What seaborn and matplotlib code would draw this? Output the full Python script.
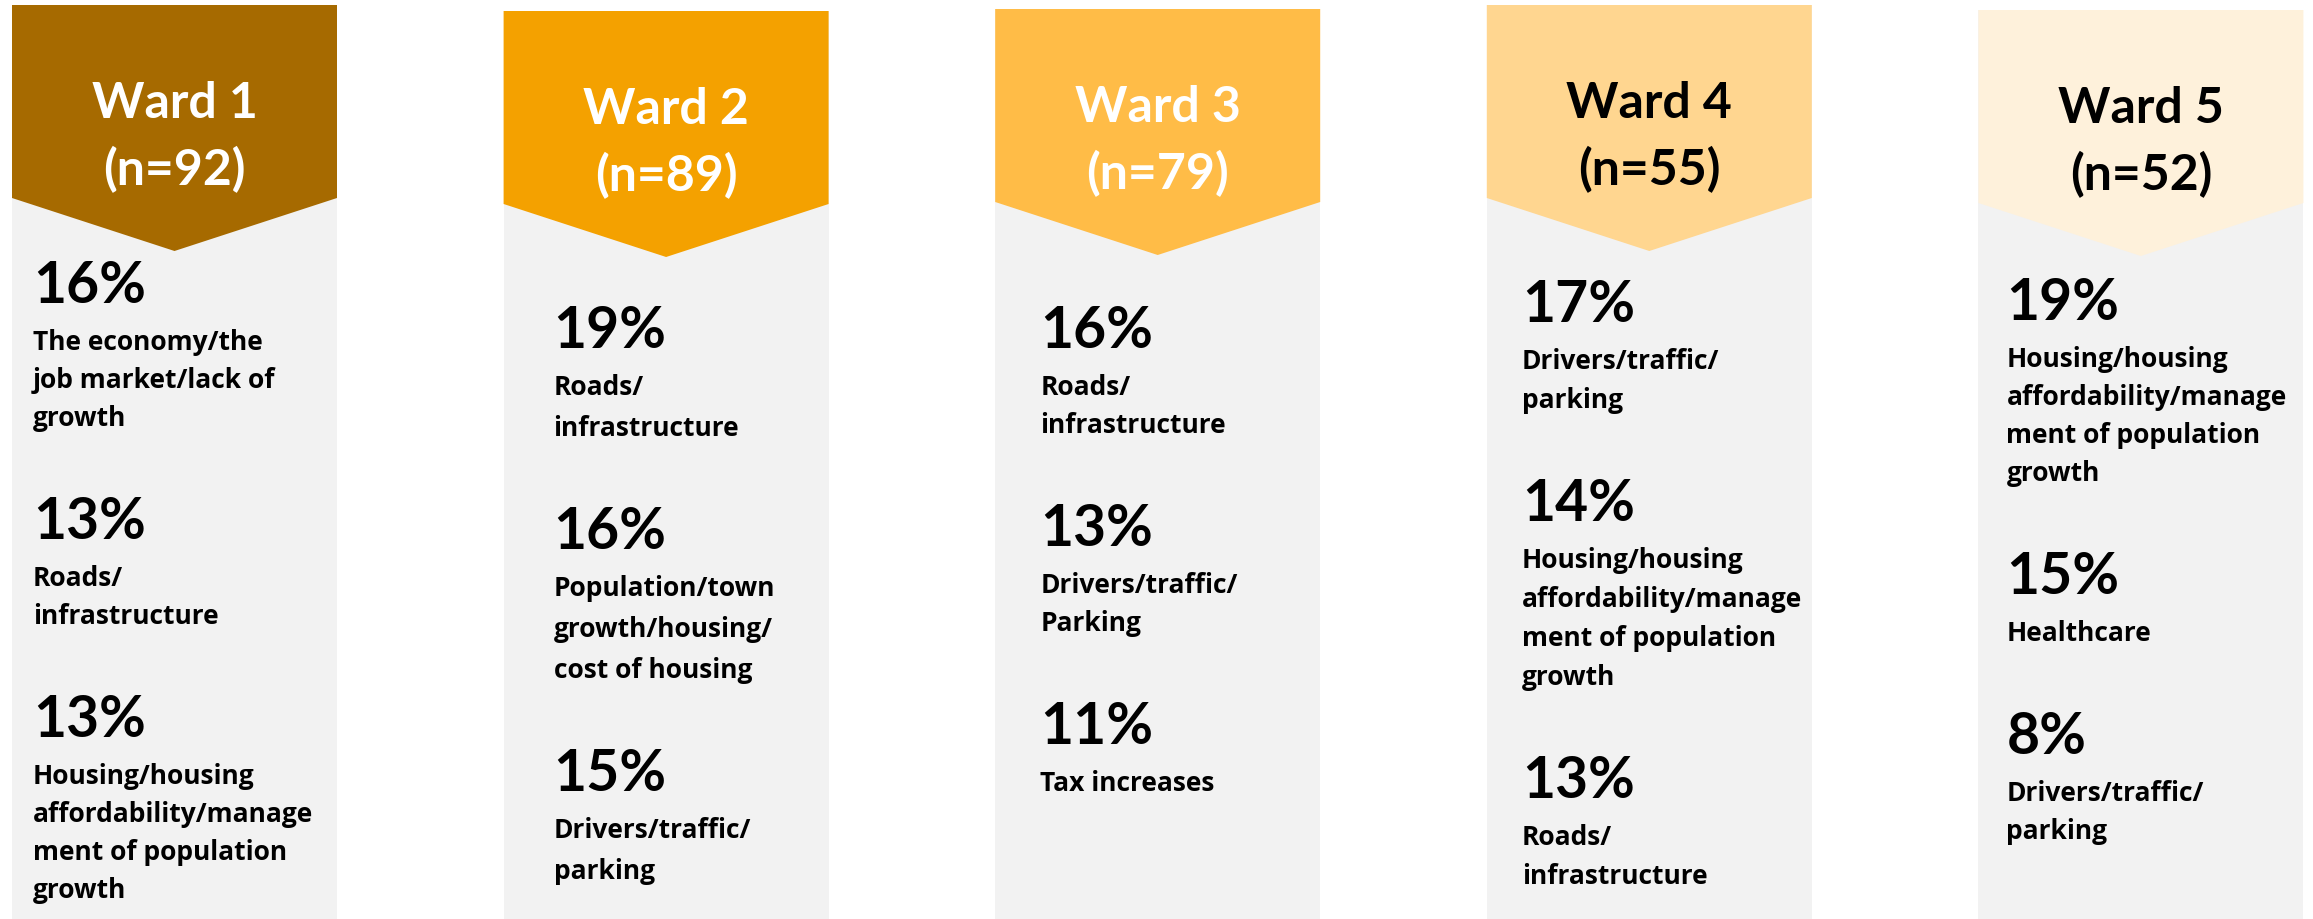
import matplotlib.pyplot as plt
from matplotlib.patches import Polygon
import seaborn as sns

# data
wards = ["Ward 1", "Ward 2", "Ward 3", "Ward 4", "Ward 5"]
sample_sizes = [92, 89, 79, 55, 52]

ward1_pct = [16, 13, 13]
ward1_issues = ["The economy/the\njob market/lack of\ngrowth",
                "Roads/\ninfrastructure",
                "Housing/housing\naffordability/manage\nment of population\ngrowth"]
ward2_pct = [19, 16, 15]
ward2_issues = ["Roads/\ninfrastructure",
                "Population/town\ngrowth/housing/\ncost of housing",
                "Drivers/traffic/\nparking"]
ward3_pct = [16, 13, 11]
ward3_issues = ["Roads/\ninfrastructure",
                "Drivers/traffic/\nParking",
                "Tax increases"]
ward4_pct = [17, 14, 13]
ward4_issues = ["Drivers/traffic/\nparking",
                "Housing/housing\naffordability/manage\nment of population\ngrowth",
                "Roads/\ninfrastructure"]
ward5_pct = [19, 15, 8]
ward5_issues = ["Housing/housing\naffordability/manage\nment of population\ngrowth",
                "Healthcare",
                "Drivers/traffic/\nparking"]

all_pct = [ward1_pct, ward2_pct, ward3_pct, ward4_pct, ward5_pct]
all_issues = [ward1_issues, ward2_issues, ward3_issues, ward4_issues, ward5_issues]

# styling / layout (pixels)
header_colors = ["#A66A00", "#F4A100", "#FFBC47", "#FFD690", "#FEF1DB"]
title_colors = ["white", "white", "white", "black", "black"]
panel_color = "#F2F2F2"
FIG_W, FIG_H = 2313, 920
STEP = 491.6          # px between column centres
FIRST_CENTER = 174.5  # px, centre of first column
PANEL_W = 325 / STEP
panel_tops = [6, 12, 10, 6, 11]
text_offsets = [21, 50, 45, 35, 28]
first_baselines = [303, 348, 348, 322, 320]
line_steps = [38, 41, 38, 39, 38]
FONT = "Lato"
BODY_FONT = "Open Sans"


def draw_header(ax, i):
    top = FIG_H - panel_tops[i]
    side = top - 193
    tip = top - 246
    left, right = i - PANEL_W / 2, i + PANEL_W / 2
    ax.add_patch(Polygon([(left, top), (right, top), (right, side), (i, tip), (left, side)],
                         closed=True, facecolor=header_colors[i], edgecolor="none", zorder=3))
    ax.text(i, top - 112, wards[i], ha="center", va="baseline", fontsize=36,
            fontweight="bold", family=FONT, color=title_colors[i], zorder=4)
    ax.text(i, top - 179, f"(n={sample_sizes[i]})", ha="center", va="baseline", fontsize=36,
            fontweight="bold", family=FONT, color=title_colors[i], zorder=4)


def draw_body(ax, i):
    x = i - PANEL_W / 2 + text_offsets[i] / STEP
    y = FIG_H - first_baselines[i]
    for pct, issue in zip(all_pct[i], all_issues[i]):
        ax.text(x, y, f"{pct}%", ha="left", va="baseline", fontsize=41,
                fontweight="bold", family=FONT, color="black", zorder=4)
        y -= 47
        lines = issue.split("\n")
        for k, line in enumerate(lines):
            ax.text(x, y, line, ha="left", va="baseline", fontsize=19,
                    fontweight="bold", family=BODY_FONT, color="black", zorder=4)
            if k < len(lines) - 1:
                y -= line_steps[i]
        y -= 113


def main():
    sns.set_theme(style="white")
    fig = plt.figure(figsize=(FIG_W / 100, FIG_H / 100), dpi=100)
    ax = fig.add_axes([0, 0, 1, 1])

    panel_heights = [FIG_H - t for t in panel_tops]
    sns.barplot(x=wards, y=panel_heights, color=panel_color, saturation=1,
                width=PANEL_W, ax=ax, zorder=1)
    for p in ax.patches:
        p.set_edgecolor("none")

    for i in range(len(wards)):
        draw_header(ax, i)
        draw_body(ax, i)

    ax.set_xlim(-FIRST_CENTER / STEP, (FIG_W - FIRST_CENTER) / STEP)
    ax.set_ylim(0, FIG_H)
    ax.axis("off")
    fig.savefig("out.png", dpi=100, facecolor="white")
    plt.close(fig)


if __name__ == "__main__":
    main()
